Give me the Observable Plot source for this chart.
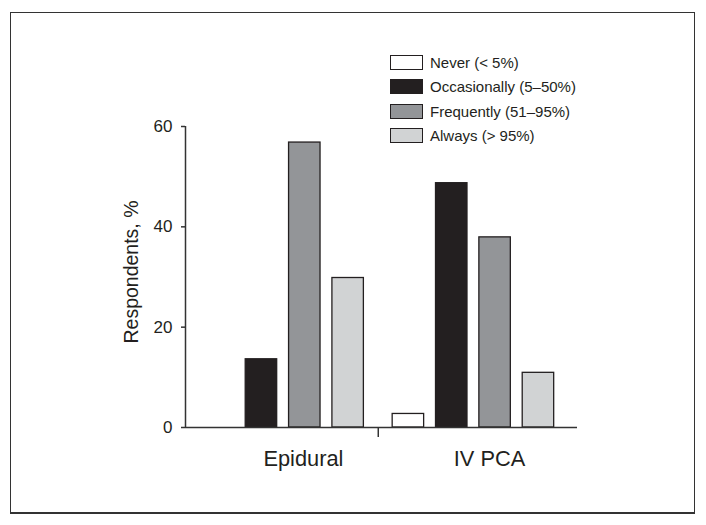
<!DOCTYPE html>
<html>
<head>
<meta charset="utf-8">
<script src="https://cdn.jsdelivr.net/npm/d3@7"></script>
<script src="https://cdn.jsdelivr.net/npm/@observablehq/plot@0.6"></script>
<style>
  html, body { margin: 0; padding: 0; background: #fff; }
  #wrap { position: relative; width: 706px; height: 525px; overflow: hidden; font-family: "Liberation Sans", Arial, Helvetica, sans-serif; color: #231f20; }
  #border { position: absolute; left: 10px; top: 12px; width: 685px; height: 502px; box-sizing: border-box; border: 1.5px solid #333; border-bottom-width: 2.2px; }
  #chart { position: absolute; left: 0; top: 0; }
  #legend { position: absolute; left: 390px; top: 55px; }
  .row { display: flex; align-items: center; height: 24.5px; margin: 0; }
  .row:first-child { margin-top: -5px; }
  .sw { width: 33px; height: 15px; box-sizing: border-box; border: 1.5px solid #231f20; margin-right: 7px; flex: none; }
  .lab { font-size: 15px; line-height: 15px; white-space: nowrap; }
</style>
</head>
<body>
<div id="wrap">
  <div id="border"></div>
  <div id="chart"></div>
  <div id="legend"></div>
</div>
<script>
// ---- data ----
const groups = ["Epidural", "IV PCA"];
const categories = ["Never (< 5%)", "Occasionally (5–50%)", "Frequently (51–95%)", "Always (> 95%)"];
const epiduralValues = [0, 13.6, 56.8, 29.8];
const ivPcaValues = [2.7, 48.7, 37.9, 10.9];
const yTicks = [0, 20, 40, 60];
const palette = ["#ffffff", "#231f20", "#939598", "#d1d3d4"];

// ---- layout constants (code, not data) ----
const GROUP_STRIDE = 4.39;   // slot units between group starts
const HALF = 0.363;          // half bar width in slot units
const X_DOMAIN = [-0.752, 8.291];

const valuesByGroup = [epiduralValues, ivPcaValues];
const rows = groups.flatMap((g, gi) =>
  categories.map((c, ci) => ({ group: g, category: c, slot: gi * GROUP_STRIDE + ci, value: valuesByGroup[gi][ci] }))
).filter(d => d.value > 0);

const boundary = (3 + GROUP_STRIDE) / 2;
const labelRows = groups.map((g, gi) => ({ group: g, slot: gi * GROUP_STRIDE + 1 }));

const chart = Plot.plot({
  width: 706,
  height: 525,
  marginLeft: 185,
  marginRight: 129,
  marginTop: 126,
  marginBottom: 98,
  style: { fontFamily: "'Liberation Sans', Arial, Helvetica, sans-serif", color: "#231f20", background: "transparent" },
  x: { type: "linear", domain: X_DOMAIN },
  y: { domain: [0, 60] },
  color: { domain: categories, range: palette },
  marks: [
    Plot.rect(rows, {
      x1: d => d.slot - HALF, x2: d => d.slot + HALF,
      y1: 0, y2: "value",
      fill: "category", stroke: "#231f20", strokeWidth: 1.3
    }),
    Plot.ruleY([0], { stroke: "#333", strokeWidth: 1.5 }),
    Plot.ruleX([X_DOMAIN[0]], { y1: 0, y2: 60, stroke: "#333", strokeWidth: 1.5 }),
    Plot.axisY({ ticks: yTicks, tickSize: 4, tickPadding: 9, fontSize: 17, label: null, stroke: "#333", strokeWidth: 1.5 }),
    Plot.axisX({ ticks: [boundary], tickSize: 10, tickFormat: () => "", label: null, stroke: "#333", strokeWidth: 1.5 }),
    Plot.text(labelRows, { x: "slot", text: "group", frameAnchor: "bottom", textAnchor: "start", lineAnchor: "bottom", dx: 2, dy: 38, fontSize: 21.8, fill: "#231f20" }),
    Plot.text(["Respondents, %"], { frameAnchor: "left", rotate: -90, dx: -54, dy: -5, textAnchor: "middle", lineAnchor: "middle", fontSize: 19.5, fill: "#231f20" })
  ]
});
document.getElementById("chart").appendChild(chart);

// ---- legend built from the same arrays ----
const legend = document.getElementById("legend");
categories.forEach((c, i) => {
  const row = document.createElement("div");
  row.className = "row";
  const sw = document.createElement("span");
  sw.className = "sw";
  sw.style.background = palette[i];
  const lab = document.createElement("span");
  lab.className = "lab";
  lab.textContent = c;
  row.appendChild(sw);
  row.appendChild(lab);
  legend.appendChild(row);
});
</script>
</body>
</html>
